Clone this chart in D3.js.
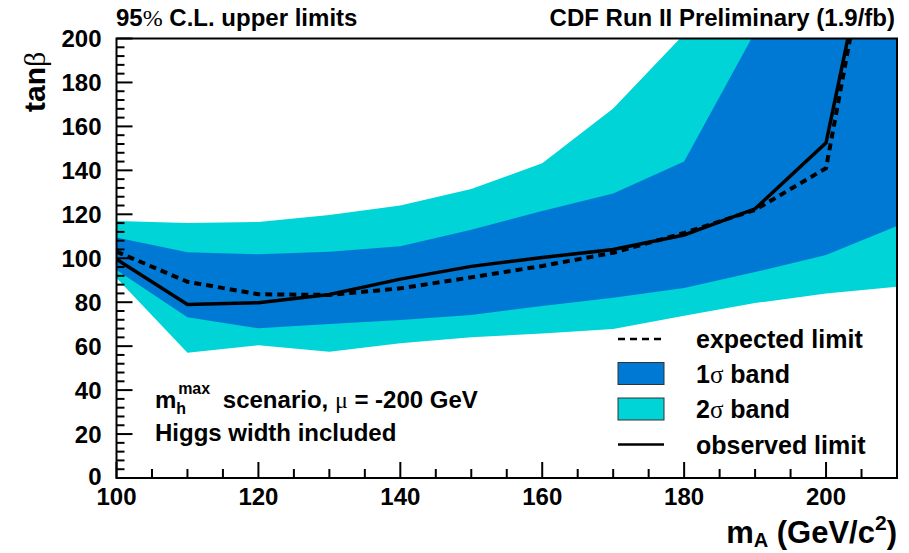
<!DOCTYPE html>
<html>
<head>
<meta charset="utf-8">
<script src="https://cdn.jsdelivr.net/npm/d3@7"></script>
<style>
  html, body { margin: 0; padding: 0; background: #fff; }
  svg { display: block; }
  text { font-family: "Liberation Sans", Arial, Helvetica, sans-serif; font-weight: bold; fill: #000; }
  .sym { font-family: "Liberation Serif", "DejaVu Serif", serif; font-weight: normal; }
</style>
</head>
<body>
<svg id="chart" width="909" height="553"></svg>
<script>
// Higgs mass points (GeV/c^2)
const mass = [100, 110, 120, 130, 140, 150, 160, 170, 180, 190, 200, 210];
// 95% C.L. upper limits on tan(beta)
const observed  = [99.5, 79, 79.8, 83.5, 90.5, 96.3, 100.3, 104, 110.6, 122.5, 152.5, 307];
const expected  = [103, 89.3, 83.6, 83.3, 86.3, 91.3, 96.5, 102.5, 111.5, 122, 141, 315];
const band1Low  = [94.7, 73.1, 68.1, 70.1, 71.9, 74.2, 78.3, 82, 86.5, 93.7, 101.5, 114.7];
const band1High = [109.4, 102.7, 101.8, 103, 105.5, 113, 121.5, 129.5, 144, 203, 300, 400];
const band2Low  = [91, 57, 60.4, 57.5, 61.3, 64, 65.8, 67.8, 73.8, 79.6, 84, 87];
const band2High = [117, 116, 116.5, 119.7, 124, 131.5, 143.2, 168.2, 202, 280, 360, 450];

const xTicks = [100, 120, 140, 160, 180, 200];
const yTicks = [0, 20, 40, 60, 80, 100, 120, 140, 160, 180, 200];

const colBand1 = "#0079d4";
const colBand2 = "#00d4d6";

const svg = d3.select("#chart");
const L = 116.5, R = 897, T = 38.5, B = 478;

const x = d3.scaleLinear().domain([100, 210]).range([L, R]);
const y = d3.scaleLinear().domain([0, 200]).range([B, T]);

svg.append("clipPath").attr("id", "plotClip")
  .append("rect").attr("x", L).attr("y", T).attr("width", R - L).attr("height", B - T);

const plot = svg.append("g").attr("clip-path", "url(#plotClip)");

const rows = mass.map((m, i) => ({
  m, obs: observed[i], exp: expected[i],
  l1: band1Low[i], h1: band1High[i], l2: band2Low[i], h2: band2High[i]
}));

const area = (lo, hi) => d3.area().x(d => x(d.m)).y0(d => y(d[lo])).y1(d => y(d[hi]));

plot.append("path").datum(rows).attr("d", area("l2", "h2")).attr("fill", colBand2);
plot.append("path").datum(rows).attr("d", area("l1", "h1")).attr("fill", colBand1);

const line = key => d3.line().x(d => x(d.m)).y(d => y(d[key]));

plot.append("path").datum(rows).attr("d", line("exp"))
  .attr("fill", "none").attr("stroke", "#000").attr("stroke-width", 4)
  .attr("stroke-dasharray", "7,5");
plot.append("path").datum(rows).attr("d", line("obs"))
  .attr("fill", "none").attr("stroke", "#000").attr("stroke-width", 3.5)
  .attr("stroke-linejoin", "miter");

// axes: ticks drawn inward
const axisG = svg.append("g");
const yMinor = d3.range(0, 201, 4);
axisG.selectAll("line.ytick").data(yMinor).join("line")
  .attr("x1", L).attr("x2", d => L + (d % 20 === 0 ? 16 : 8))
  .attr("y1", d => y(d)).attr("y2", d => y(d))
  .attr("stroke", "#000").attr("stroke-width", 2);
const xMinor = d3.range(100, 210, 5);
axisG.selectAll("line.xtick").data(xMinor).join("line")
  .attr("y1", B).attr("y2", d => B - (d % 20 === 0 ? 16 : 9))
  .attr("x1", d => x(d)).attr("x2", d => x(d))
  .attr("stroke", "#000").attr("stroke-width", 2);

axisG.append("rect").attr("x", L).attr("y", T).attr("width", R - L).attr("height", B - T)
  .attr("fill", "none").attr("stroke", "#000").attr("stroke-width", 2);

axisG.selectAll("text.ylab").data(yTicks).join("text")
  .attr("x", L - 15).attr("y", d => y(d) + 8.5 - (d === 0 ? 2 : 0))
  .attr("text-anchor", "end").attr("font-size", 24).text(d => d);
axisG.selectAll("text.xlab").data(xTicks).join("text")
  .attr("x", d => x(d)).attr("y", 505)
  .attr("text-anchor", "middle").attr("font-size", 24).text(d => d);

// axis titles
const xt = svg.append("text").attr("x", 897).attr("y", 543).attr("text-anchor", "end").attr("font-size", 31);
xt.append("tspan").text("m");
xt.append("tspan").attr("font-size", 20).attr("dy", 4).text("A");
xt.append("tspan").attr("dy", -4).text(" (GeV/c");
xt.append("tspan").attr("font-size", 21).attr("dy", -13).text("2");
xt.append("tspan").attr("dy", 13).text(")");

const yt = svg.append("text").attr("transform", "translate(45,112) rotate(-90)")
  .attr("font-size", 30);
yt.append("tspan").text("tan");
yt.append("tspan").attr("class", "sym").text("β");

// header texts
const t1 = svg.append("text").attr("x", 116).attr("y", 26).attr("font-size", 24);
t1.append("tspan").text("95");
t1.append("tspan").attr("class", "sym").text("%");
t1.append("tspan").text(" C.L. upper limits");

svg.append("text").attr("x", 895).attr("y", 26).attr("text-anchor", "end")
  .attr("font-size", 24).text("CDF Run II Preliminary (1.9/fb)");

// scenario annotation
const a1 = svg.append("text").attr("x", 155).attr("y", 408).attr("font-size", 24);
a1.append("tspan").text("m");
a1.append("tspan").attr("font-size", 16).attr("dy", 6).text("h");
a1.append("tspan").attr("font-size", 16).attr("dy", -20).attr("dx", -8).text("max");
a1.append("tspan").attr("dy", 14).attr("dx", 6).text(" scenario, ");
a1.append("tspan").attr("class", "sym").text("μ");
a1.append("tspan").text(" = -200 GeV");
svg.append("text").attr("x", 155).attr("y", 441).attr("font-size", 24).text("Higgs width included");

// legend
const lg = svg.append("g");
const lx0 = 618, lx1 = 664, tx = 696;
lg.append("line").attr("x1", lx0).attr("x2", lx1).attr("y1", 339).attr("y2", 339)
  .attr("stroke", "#000").attr("stroke-width", 2.5).attr("stroke-dasharray", "7,5");
lg.append("rect").attr("x", lx0).attr("y", 362.5).attr("width", lx1 - lx0).attr("height", 22)
  .attr("fill", colBand1).attr("stroke", "#333").attr("stroke-width", 1);
lg.append("rect").attr("x", lx0).attr("y", 398).attr("width", lx1 - lx0).attr("height", 22)
  .attr("fill", colBand2).attr("stroke", "#333").attr("stroke-width", 1);
lg.append("line").attr("x1", lx0).attr("x2", lx1).attr("y1", 444.5).attr("y2", 444.5)
  .attr("stroke", "#000").attr("stroke-width", 2.5);

const legendRows = [
  { y: 347.5, parts: [["expected limit", false]] },
  { y: 382.5, parts: [["1", false], ["σ", true], [" band", false]] },
  { y: 417.5, parts: [["2", false], ["σ", true], [" band", false]] },
  { y: 453.5, parts: [["observed limit", false]] }
];
legendRows.forEach(r => {
  const t = lg.append("text").attr("x", tx).attr("y", r.y).attr("font-size", 25);
  r.parts.forEach(([s, sym]) => {
    const sp = t.append("tspan").text(s);
    if (sym) sp.attr("class", "sym");
  });
});
</script>
</body>
</html>
